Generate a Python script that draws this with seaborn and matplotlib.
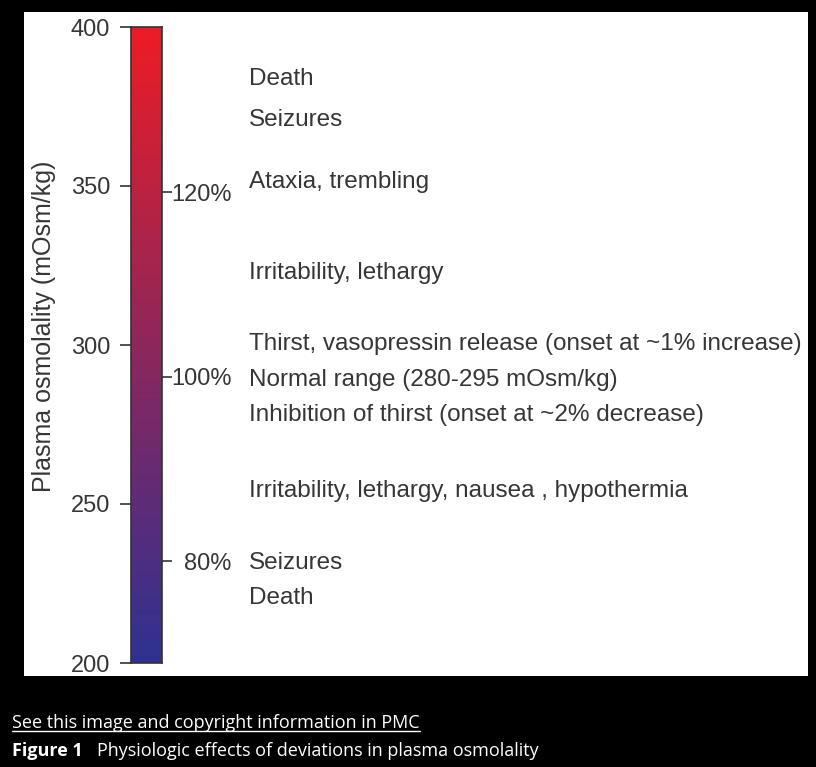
import numpy as np
import seaborn as sns
import matplotlib.pyplot as plt
from matplotlib.colors import LinearSegmentedColormap
from matplotlib.patches import Rectangle
from matplotlib.lines import Line2D
from matplotlib.transforms import blended_transform_factory

# Scale and labels
osm_min, osm_max = 200, 400
osm_ticks = [200, 250, 300, 350, 400]
pct_values = [232, 290, 348]
pct_labels = ["80%", "100%", "120%"]

# Effects and where they sit on the scale (mOsm/kg)
effect_labels = [
    "Death",
    "Seizures",
    "Ataxia, trembling",
    "Irritability, lethargy",
    "Thirst, vasopressin release (onset at ~1% increase)",
    "Normal range (280-295 mOsm/kg)",
    "Inhibition of thirst (onset at ~2% decrease)",
    "Irritability, lethargy, nausea , hypothermia",
    "Seizures",
    "Death",
]
effect_values = [383.6, 370.8, 351.3, 322.6, 300.3, 289.0, 278.0, 254.1, 231.4, 220.4]

sns.set_style("white")
plt.rcParams["font.family"] = ["Liberation Sans", "DejaVu Sans"]
text_color = "#363636"

fig = plt.figure(figsize=(8.16, 7.67), dpi=100, facecolor="black")
W, H = 816, 767

# white panel behind the chart
fig.patches.append(Rectangle((24 / W, 1 - 676 / H), (808 - 24) / W, (676 - 12) / H,
                             transform=fig.transFigure, facecolor="white",
                             edgecolor="none", zorder=-10))

pos = [131 / W, 1 - 663 / H, 31 / W, 636 / H]

# gradient bar
hax = fig.add_axes(pos)
grad = np.linspace(osm_max, osm_min, 300).reshape(-1, 1)
cmap = LinearSegmentedColormap.from_list("osm", ["#2e3192", "#ec1c24"])
sns.heatmap(grad, cmap=cmap, vmin=osm_min, vmax=osm_max, cbar=False,
            xticklabels=False, yticklabels=False, ax=hax)
hax.set_axis_off()

# axis with the ticks
ax = fig.add_axes(pos, facecolor="none")
ax.set_xlim(0, 1)
ax.set_ylim(osm_min, osm_max)
ax.set_xticks([])
ax.set_yticks(osm_ticks)
ax.tick_params(axis="y", left=True, length=8, width=1.2, color="#333333",
               labelsize=17, labelcolor=text_color, pad=7)
for s in ax.spines.values():
    s.set_color("#333333")
    s.set_linewidth(1.2)
ax.set_ylabel("Plasma osmolality (mOsm/kg)", fontsize=18, color=text_color)
ax.yaxis.set_label_coords(-2.42, 0.53)

twin = ax.twinx()
twin.set_ylim(osm_min, osm_max)
twin.set_yticks(pct_values, pct_labels)
twin.tick_params(axis="y", right=True, length=7.2, width=1.2, color="#333333",
                 labelsize=17, labelcolor=text_color, pad=43)
for lab in twin.get_yticklabels():
    lab.set_horizontalalignment("right")
for s in twin.spines.values():
    s.set_visible(False)

# effect annotations
tr = blended_transform_factory(fig.transFigure, ax.transData)
for lab, val in zip(effect_labels, effect_values):
    ax.text(249 / W, val, lab, transform=tr, fontsize=17.5, color=text_color,
            va="center", ha="left", clip_on=False)

# caption under the figure
cap_font = ["Open Sans", "DejaVu Sans"]
t1 = fig.text(12 / W, 1 - 728 / H, "See this image and copyright information in PMC",
              color="white", fontsize=13, family=cap_font, va="baseline")
t2 = fig.text(12 / W, 1 - 756 / H, "Figure 1", color="white", fontsize=13,
              family=cap_font, weight="bold", va="baseline")
fig.canvas.draw()
r = fig.canvas.get_renderer()
bb1 = t1.get_window_extent(r)
fig.add_artist(Line2D([bb1.x0 / W, bb1.x1 / W], [(H - 731) / H] * 2,
                      color="white", linewidth=1, transform=fig.transFigure))
bb2 = t2.get_window_extent(r)
fig.text((bb2.x1 + 14) / W, 1 - 756 / H, "Physiologic effects of deviations in plasma osmolality",
         color="white", fontsize=13, family=cap_font, va="baseline")

fig.savefig("out.png", dpi=100, facecolor="black")
